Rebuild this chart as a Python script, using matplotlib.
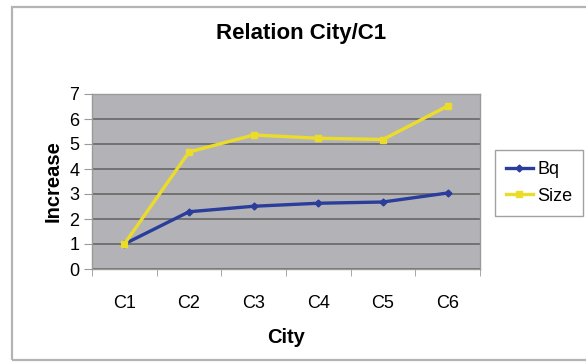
import matplotlib.pyplot as plt
import matplotlib.patches as patches
import numpy as np

plt.rcParams["font.family"] = ["Liberation Sans", "DejaVu Sans"]

cities = ["C1", "C2", "C3", "C4", "C5", "C6"]
bq = [1.0, 2.29, 2.51, 2.63, 2.68, 3.04]
size = [1.0, 4.68, 5.36, 5.23, 5.18, 6.52]

fig = plt.figure(figsize=(5.86, 3.64), dpi=100)
fig.patch.set_facecolor("white")

# chart frame
frame = patches.Rectangle((12 / 586, 4 / 364), 1.0, 1 - 11 / 364,
                          transform=fig.transFigure, fill=False,
                          edgecolor="#b4b4b4", linewidth=1.6, clip_on=False)
fig.patches.append(frame)

ax = fig.add_axes([92 / 586, 95 / 364, 388 / 586, 175 / 364])
ax.set_facecolor("#b3b3b7")

x = np.arange(len(cities))
ax.plot(x, bq, color="#2a3d9a", linewidth=2.4, marker="D", markersize=3.5,
        label="Bq", zorder=3)
ax.plot(x, size, color="#ecdc2a", linewidth=2.4, marker="s", markersize=4,
        label="Size", zorder=3)

ax.set_xlim(-0.5, len(cities) - 0.5)
ax.set_ylim(0, 7)
ax.set_yticks(range(0, 8))
ax.yaxis.grid(True, color="#606060", linewidth=1.1)
ax.set_axisbelow(True)

ax.set_xticks(x)
ax.set_xticklabels(cities, fontsize=13)
ax.tick_params(axis="x", length=0, pad=19)
ax.set_xticks(np.arange(-0.5, len(cities)), minor=True)
ax.tick_params(axis="x", which="minor", length=5, color="#9a9a9a", direction="out")
ax.tick_params(axis="y", labelsize=13, length=6, color="#9a9a9a", pad=3)

for s in ax.spines.values():
    s.set_color("#9a9a9a")
    s.set_linewidth(1.0)

ax.set_xlabel("City", fontsize=14.5, fontweight="bold", labelpad=11)
ax.set_ylabel("Increase", fontsize=14.5, fontweight="bold", labelpad=5)

fig.text(301 / 586, 1 - 33 / 364, "Relation City/C1", ha="center", va="center",
         fontsize=16, fontweight="bold")

leg = fig.legend(loc="upper left", bbox_to_anchor=(495 / 586, 1 - 150 / 364),
                 fontsize=13, frameon=True, fancybox=False, edgecolor="#8a8a8a",
                 handlelength=1.5, handletextpad=0.25, borderpad=0.6,
                 borderaxespad=0, labelspacing=0.55)
leg.get_frame().set_linewidth(1.0)

fig.savefig("out.png", dpi=100)
